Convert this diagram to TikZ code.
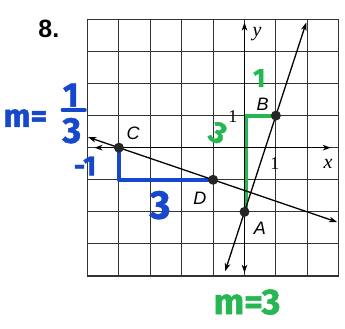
\documentclass[tikz,border=0pt]{standalone}
\usepackage{fontspec}
\setmainfont{Liberation Serif}
\newfontfamily\helv{Liberation Sans}
\newfontfamily\hand{Fira Sans}[BoldFont={Fira Sans Bold},BoldFeatures={FakeBold=1.5}]
\usetikzlibrary{arrows.meta}
\definecolor{penblue}{RGB}{22,72,205}
\definecolor{pengreen}{RGB}{38,182,82}
\begin{document}
\begin{tikzpicture}[x=31.4pt,y=32.1pt,
  gridline/.style={line width=1pt,black!80},
  axisline/.style={line width=1.3pt,black,{Stealth[length=8pt,width=5.5pt,inset=2.2pt]}-{Stealth[length=8pt,width=5.5pt,inset=2.2pt]}},
  graphline/.style={line width=1.3pt,black,{Stealth[length=8pt,width=5.5pt,inset=2.2pt]}-{Stealth[length=8pt,width=5.5pt,inset=2.2pt]}},
  dot/.style={circle,fill=black!85,inner sep=0pt,minimum size=10pt},
  ptlabel/.style={font=\helv\itshape\fontsize{18}{18}\selectfont,inner sep=0pt},
  numlabel/.style={font=\fontsize{18}{18}\selectfont,inner sep=0pt},
  bluepen/.style={penblue,line width=4pt,line cap=round,line join=round},
  greenpen/.style={pengreen,line width=4pt,line cap=round,line join=round},
  bluetext/.style={text=penblue,inner sep=0pt,font=\hand\bfseries},
  greentext/.style={text=pengreen,inner sep=0pt,font=\hand\bfseries}]
\useasboundingbox (-7.787,-5.648) rectangle (3.201,4.601);
% grid
\foreach \i in {-4,...,2} \draw[gridline] (\i,-4) -- (\i,4);
\foreach \j in {-3,...,3} \draw[gridline] (-5,\j) -- (3,\j);
\draw[gridline,line width=1.2pt] (-5,-4) rectangle (3,4);
% annotations (under the lines)
\coordinate (A) at (0,-2);
\coordinate (B) at (1,1);
\coordinate (C) at (-4,0);
\coordinate (D) at (-1,-1);
\coordinate (Cc) at (-4,-1);
\coordinate (Ac) at (0.04,1);
\coordinate (As) at (0.04,-2);
\draw[bluepen] (C) -- (Cc) -- (D);
\draw[greenpen] (As) -- (Ac) -- (B);
% axes
\coordinate (xl) at (-4.78,0);
\coordinate (xr) at (2.75,0);
\coordinate (yb) at (0,-3.9);
\coordinate (yt) at (0,3.9);
\draw[axisline] (xl) -- (xr);
\draw[axisline] (yb) -- (yt);
% lines
\coordinate (ABlo) at (-0.617,-3.85);
\coordinate (ABhi) at (1.967,3.9);
\coordinate (CDlo) at (-4.98,0.327);
\coordinate (CDhi) at (2.95,-2.317);
\draw[graphline] (ABlo) -- (ABhi);
\draw[graphline] (CDlo) -- (CDhi);
% points
\node[dot] (pA) at (A) {};
\node[dot] (pB) at (B) {};
\node[dot] (pC) at (C) {};
\node[dot] (pD) at (D) {};
% labels
\node[ptlabel] (lA) at (0.49,-2.50) {A};
\node[ptlabel] (lB) at (0.58,1.36) {B};
\node[ptlabel] (lC) at (-3.55,0.46) {C};
\node[ptlabel] (lD) at (-1.42,-1.57) {D};
\node[numlabel] (one x) at (0.97,-0.48) {1};
\node[numlabel] (one y) at (-0.37,0.96) {1};
\node[numlabel,font=\itshape\fontsize{20}{20}\selectfont] (lx) at (2.66,-0.50) {x};
\node[numlabel,font=\itshape\fontsize{20}{20}\selectfont] (ly) at (0.40,3.55) {y};
\node[inner sep=0pt,font=\helv\bfseries\fontsize{25}{25}\selectfont] (num) at (-6.23,3.71) {8.};
% blue handwriting
\node[bluetext,font=\hand\bfseries\fontsize{32}{32}\selectfont] (bm) at (-6.98,0.92) {m=};
\node[bluetext,font=\hand\bfseries\fontsize{34}{34}\selectfont] (bnum) at (-5.53,1.64) {1};
\coordinate (barl) at (-5.80,1.17);
\coordinate (barr) at (-5.08,1.17);
\draw[penblue,line width=3.5pt,line cap=round] (barl) -- (barr);
\node[bluetext,font=\hand\bfseries\fontsize{36}{36}\selectfont] (bden) at (-5.5,0.53) {3};
\node[bluetext,font=\hand\bfseries\fontsize{28}{28}\selectfont] (bm1) at (-5.08,-0.57) {-1};
\node[bluetext,font=\hand\bfseries\fontsize{40}{40}\selectfont] (b3) at (-2.69,-1.79) {3};
% green handwriting
\node[greentext,font=\hand\bfseries\fontsize{26}{26}\selectfont] (g1) at (0.47,2.17) {1};
\node[greentext,font=\hand\bfseries\fontsize{30}{30}\selectfont,rotate=-25] (g3) at (-0.84,0.46) {3};
\node[greentext,font=\hand\bfseries\fontsize{36}{36}\selectfont] (gm) at (0.08,-4.81) {m=3};
\end{tikzpicture}
\end{document}
